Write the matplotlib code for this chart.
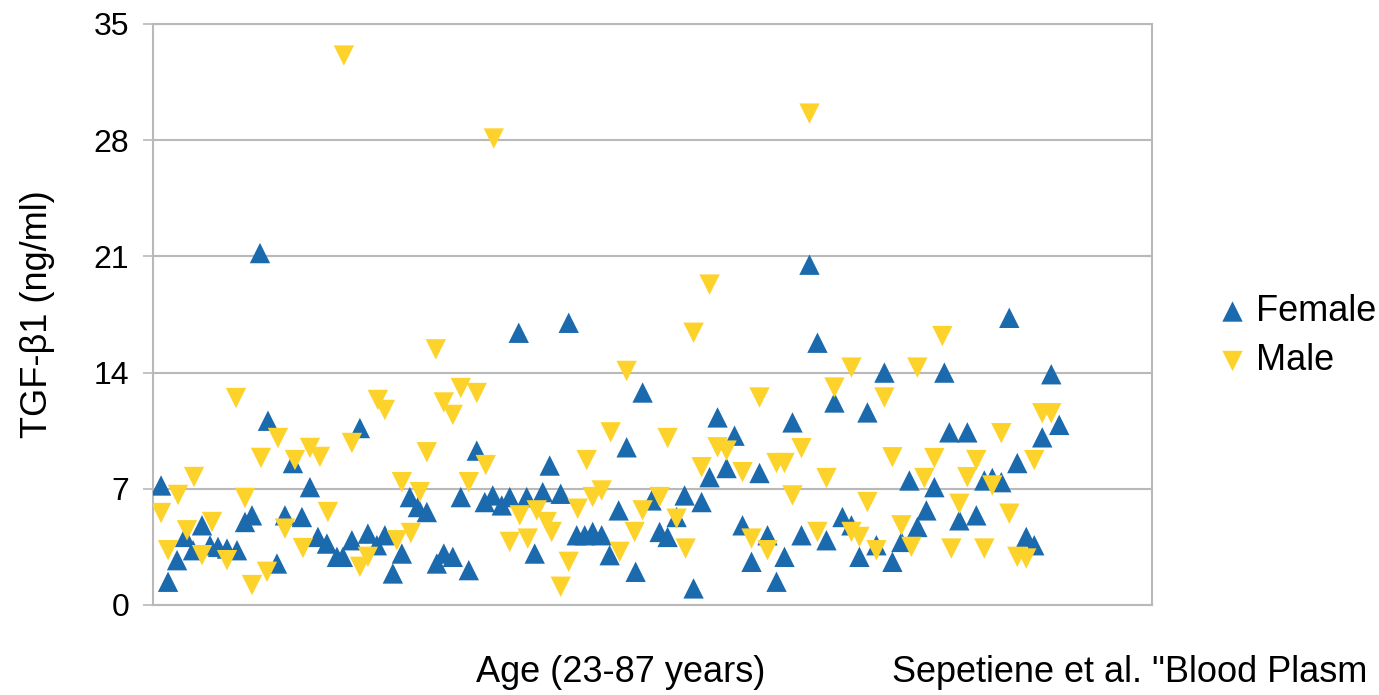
import matplotlib
matplotlib.use("Agg")
import matplotlib.pyplot as plt

plt.rcParams['font.family'] = ['Liberation Sans', 'DejaVu Sans']

# horizontal position = order of subjects along the (unlabelled) age axis, 0..100
female_x = [0.8, 1.5, 2.4, 3.2, 4.0, 4.9, 5.7, 6.5, 7.4, 8.4, 9.2, 9.9, 10.7, 11.5, 12.4,
            13.2, 14.0, 14.9, 15.7, 16.5, 17.4, 18.4, 19.0, 19.9, 20.7, 21.5, 22.4, 23.2,
            24.0, 24.9, 25.7, 26.5, 27.4, 28.4, 29.1, 30.0, 30.8, 31.6, 32.4, 33.2, 34.0,
            34.9, 35.7, 36.6, 37.4, 38.2, 39.0, 39.7, 40.8, 41.6, 42.4, 43.2, 44.0, 44.9,
            45.7, 46.6, 47.4, 48.3, 49.0, 49.9, 50.7, 51.5, 52.4, 53.2, 54.1, 54.9, 55.7,
            56.5, 57.4, 58.2, 59.0, 59.9, 60.7, 61.5, 62.4, 63.2, 64.0, 64.9, 65.7, 66.5,
            67.4, 68.2, 69.0, 69.9, 70.7, 71.5, 72.4, 73.2, 74.0, 74.9, 75.7, 76.5, 77.4,
            78.2, 79.2, 79.7, 80.7, 81.5, 82.4, 83.2, 84.0, 84.9, 85.7, 86.5, 87.4, 88.2,
            89.0, 89.9, 90.7]
female_y = [7.2, 1.4, 2.7, 4.1, 3.3, 4.8, 3.6, 3.5, 3.4, 3.3, 5.0, 5.4, 21.2, 11.1, 2.5,
            5.4, 8.55, 5.3, 7.1, 4.1, 3.7, 2.9, 2.9, 3.9, 10.66, 4.3, 3.6, 4.2,
            1.9, 3.1, 6.5, 5.9, 5.6, 2.5, 3.1, 2.9, 6.5, 2.1, 9.3, 6.2, 6.6,
            6.0, 6.5, 16.4, 6.5, 3.1, 6.8, 8.4, 6.7, 17.0, 4.2, 4.2, 4.4, 4.2,
            3.0, 5.7, 9.5, 2.0, 12.8, 6.3, 4.4, 4.1, 5.3, 6.6, 1.0, 6.2, 7.7,
            11.3, 8.25, 10.2, 4.8, 2.6, 7.95, 4.2, 1.4, 2.9, 11.0, 4.2, 20.5, 15.8,
            3.9, 12.2, 5.3, 4.8, 2.9, 11.6, 3.6, 14.0, 2.6, 3.8, 7.5, 4.7, 5.7,
            7.1, 14.0, 10.4, 5.1, 10.4, 5.4, 7.5, 7.65, 7.4, 17.3, 8.55,
            4.1, 3.6, 10.1, 13.9, 10.85]

male_x = [0.8, 1.5, 2.5, 3.4, 4.1, 4.9, 5.9, 7.4, 8.3, 9.2, 9.9, 10.8, 11.4, 12.5, 13.2,
          14.2, 15.0, 15.7, 16.7, 17.5, 19.1, 19.9, 20.7, 21.5, 22.5, 23.2, 24.4, 24.9,
          25.8, 26.7, 27.4, 28.3, 29.1, 30.0, 30.8, 31.6, 32.4, 33.3, 34.1, 35.7, 36.7,
          37.5, 38.4, 39.4, 39.9, 40.8, 41.6, 42.5, 43.4, 44.0, 44.9, 45.8, 46.7, 47.4,
          48.2, 49.0, 50.7, 51.5, 52.4, 53.3, 54.1, 54.9, 55.7, 56.5, 57.4, 59.0, 59.9,
          60.7, 61.5, 62.4, 63.2, 64.0, 64.9, 65.7, 66.5, 67.4, 68.2, 69.9, 69.9, 70.7,
          71.5, 72.4, 73.2, 74.0, 74.9, 75.9, 76.5, 77.2, 78.2, 79.0, 79.9, 80.7, 81.5,
          82.4, 83.2, 84.0, 84.9, 85.7, 86.5, 87.4, 88.2, 89.0, 89.9]
male_y = [5.54, 3.3, 6.63, 4.5, 7.71, 3.0, 5.0, 2.7, 12.47, 6.45, 1.2, 8.86, 2.0, 10.06, 4.6,
          8.73, 3.43, 9.46, 8.92, 5.6, 33.1, 9.76, 2.3, 2.9, 12.35, 11.75, 3.9, 7.4,
          4.34, 6.8, 9.2, 15.4, 12.2, 11.45, 13.07, 7.4, 12.77, 8.43, 28.1, 3.8, 5.4,
          4.0, 5.7, 5.0, 4.4, 1.1, 2.6, 5.8, 8.73, 6.5, 6.9, 10.4, 3.2, 14.1,
          4.4, 5.7, 6.5, 10.06, 5.2, 3.4, 16.4, 8.3, 19.3, 9.5, 9.3, 8.0, 4.0,
          12.5, 3.3, 8.55, 8.55, 6.6, 9.45, 29.6, 4.4, 7.65, 13.1, 14.3, 4.4, 4.1,
          6.2, 3.3, 12.5, 8.9, 4.8, 3.5, 14.3, 7.65, 8.85, 16.2, 3.4, 6.1, 7.7,
          8.73, 3.4, 7.2, 10.35, 5.5, 2.9, 2.8, 8.73, 11.55, 11.55]

y_ticks = [0, 7, 14, 21, 28, 35]

blue = '#1b6aad'
yellow = '#fdd22b'
grid_c = '#b9b9b9'

fig = plt.figure(figsize=(13.79, 6.95), dpi=100)
ax = fig.add_axes([0.111, 0.1295, 0.7245, 0.836])

ax.scatter(female_x, female_y, marker='^', s=215, color=blue, edgecolors='none',
           label='Female', zorder=3)
ax.scatter(male_x, male_y, marker='v', s=215, color=yellow, edgecolors='none',
           label='Male', zorder=3)

ax.set_xlim(0, 100)
ax.set_ylim(0, 35)
ax.set_yticks(y_ticks)
ax.set_xticks([])
ax.yaxis.grid(True, color=grid_c, linewidth=1.5)
ax.set_axisbelow(True)
for sp in ax.spines.values():
    sp.set_color(grid_c)
    sp.set_linewidth(1.5)
ax.tick_params(axis='y', length=7, width=1.2, color=grid_c, labelsize=23, pad=10)

ax.set_ylabel('TGF-β1 (ng/ml)', fontsize=26, labelpad=28)
fig.text(0.450, 0.033, 'Age (23-87 years)', fontsize=26, ha='center', va='center')
# caption is cut by the right border in the source image
fig.text(0.647, 0.033, 'Sepetiene et al. "Blood Plasm', fontsize=26, ha='left', va='center')

fig.legend(loc='upper left', bbox_to_anchor=(0.882, 0.577), frameon=False, fontsize=26,
           handlelength=0.9, handletextpad=0.2, labelspacing=0.4, borderpad=0,
           borderaxespad=0)

fig.savefig('out.png', dpi=100)
